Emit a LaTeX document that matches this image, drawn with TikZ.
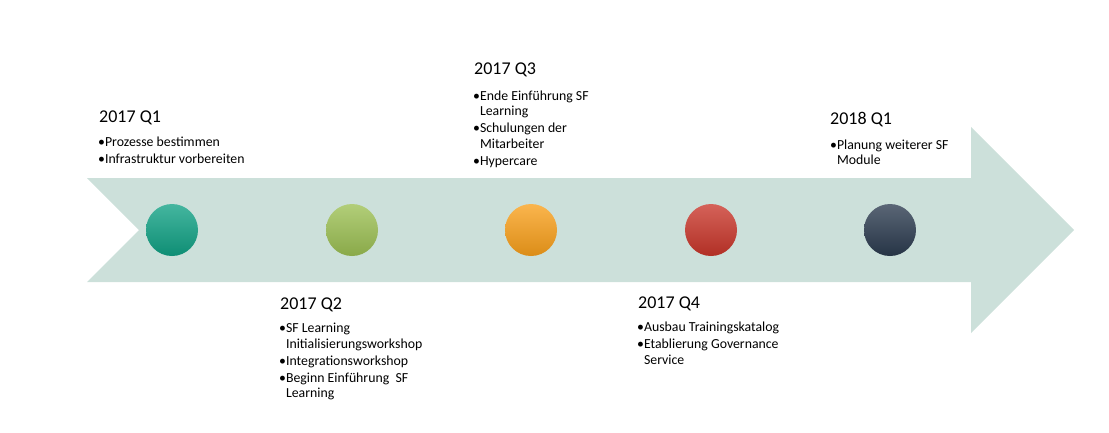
\documentclass[tikz,border=0pt]{standalone}
\usepackage{fontspec}
\setmainfont{Carlito}

\definecolor{band}{HTML}{CCE0DA}
\definecolor{tealq}{HTML}{10A184}
\definecolor{greenq}{HTML}{9CC053}
\definecolor{orangeq}{HTML}{F9A01B}
\definecolor{redq}{HTML}{C9362A}
\definecolor{navyq}{HTML}{2B3B4F}

\newcommand{\cont}{\phantom{\textbullet}}

\begin{document}
\begin{tikzpicture}[x=1pt,y=-1pt,
    stage/.style={anchor=base west,inner sep=0pt,font=\fontsize{18}{22}\selectfont},
    tasks/.style={anchor=north west,inner sep=0pt,align=left,
      font=\fontsize{13.8}{15.5}\selectfont},
    milestone/.style={circle,inner sep=0pt,minimum size=52pt,
      top color=#1!78!white,bottom color=#1!88!black}]
      \useasboundingbox (0,0) rectangle (1109,432);

      % the arrow
      \fill[color=band] (87,178) -- (971,178) -- (971,127) -- (1074,230)
        -- (971,333) -- (971,282) -- (87,282) -- (139,230) -- cycle;

      \node[milestone=tealq] (m1) at (172,230) {};
      \node[milestone=greenq] (m2) at (352,230) {};
      \node[milestone=orangeq] (m3) at (531,230) {};
      \node[milestone=redq] (m4) at (711,230) {};
      \node[milestone=navyq] (m5) at (890,230) {};


      \node[stage] (q1) at (99,122.7) {2017 Q1};

      \node[tasks] (q1tasks) at (98,137) {\textbullet Prozesse bestimmen\\[1pt]
        \textbullet Infrastruktur vorbereiten};


      \node[stage] (q2) at (280,309) {2017 Q2};

      \node[tasks] (q2tasks) at (279,323) {\textbullet SF Learning\\
        \cont Initialisierungsworkshop\\[1.5pt]
        \textbullet Integrationsworkshop\\[1.5pt]
        \textbullet Beginn Einführung\ \ SF\\
        \cont Learning};


      \node[stage] (q3) at (474,74.3) {2017 Q3};

      \node[tasks] (q3tasks) at (473,90.3) {\textbullet Ende Einführung SF\\
        \cont Learning\\[1.5pt]
        \textbullet Schulungen der\\
        \cont Mitarbeiter\\[1.5pt]
        \textbullet Hypercare};


      \node[stage] (q4) at (638,308.5) {2017 Q4};

      \node[tasks] (q4tasks) at (637,322) {\textbullet Ausbau Trainingskatalog\\[1.5pt]
        \textbullet Etablierung Governance\\
        \cont Service};


      \node[stage] (q5) at (830,124.3) {2018 Q1};

      \node[tasks] (q5tasks) at (830,139.3) {\textbullet Planung weiterer SF\\
        \cont Module};
    \end{tikzpicture}
\end{document}
